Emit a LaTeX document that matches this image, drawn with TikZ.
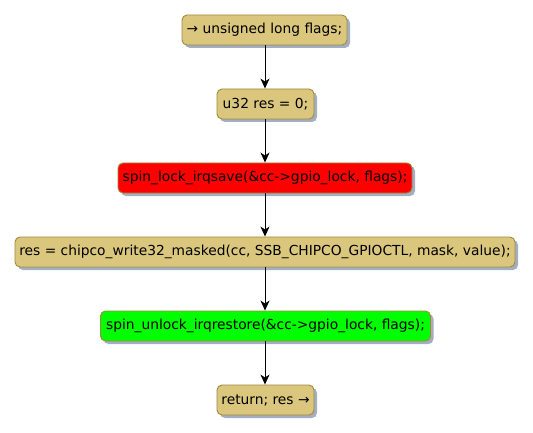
\documentclass[tikz,border=0pt]{standalone}
\usepackage{fontspec}
\setmainfont{DejaVu Sans}
\usetikzlibrary{arrows.meta,shadows}
\definecolor{actfill}{HTML}{DBC67E}
\definecolor{actborder}{HTML}{A0893A}
\definecolor{shadowc}{HTML}{A4AEC2}
\definecolor{redfill}{HTML}{FF0000}
\definecolor{greenfill}{HTML}{00FF00}
\begin{document}
\begin{tikzpicture}[x=1pt,y=-1pt,
  act/.style={draw=actborder, line width=0.9pt, fill=actfill, rounded corners=5pt,
    minimum height=30pt, inner xsep=4pt, inner ysep=0pt, anchor=center,
    font=\fontsize{13.8}{16}\selectfont, text=black,
    general shadow={fill=shadowc, shadow xshift=3pt, shadow yshift=-3pt}},
  flow/.style={draw=black, line width=0.9pt, -{Stealth[length=10pt,width=9pt,inset=3pt]}}]
\useasboundingbox (0,0) rectangle (533,433);
\node[act, minimum width=165pt] (n1) at (264.5,30) {→ unsigned long flags;};
\node[act, minimum width=97pt] (n2) at (265.5,104) {u32 res = 0;};
\node[act, minimum width=294pt, fill=redfill] (n3) at (265,178) {spin\_lock\_irqsave(\&cc->gpio\_lock, flags);};
\node[act, minimum width=500pt] (n4) at (265,252) {res = chipco\_write32\_masked(cc, SSB\_CHIPCO\_GPIOCTL, mask, value);};
\node[act, minimum width=330pt, fill=greenfill] (n5) at (265.5,326) {spin\_unlock\_irqrestore(\&cc->gpio\_lock, flags);};
\node[act, minimum width=97pt] (n6) at (265.5,400) {return; res →};
\draw[flow] (n1.south -| 265,0) -- (n2.north -| 265,0);
\draw[flow] (n2.south -| 265,0) -- (n3.north -| 265,0);
\draw[flow] (n3.south -| 265,0) -- (n4.north -| 265,0);
\draw[flow] (n4.south -| 265,0) -- (n5.north -| 265,0);
\draw[flow] (n5.south -| 265,0) -- (n6.north -| 265,0);
\end{tikzpicture}
\end{document}
